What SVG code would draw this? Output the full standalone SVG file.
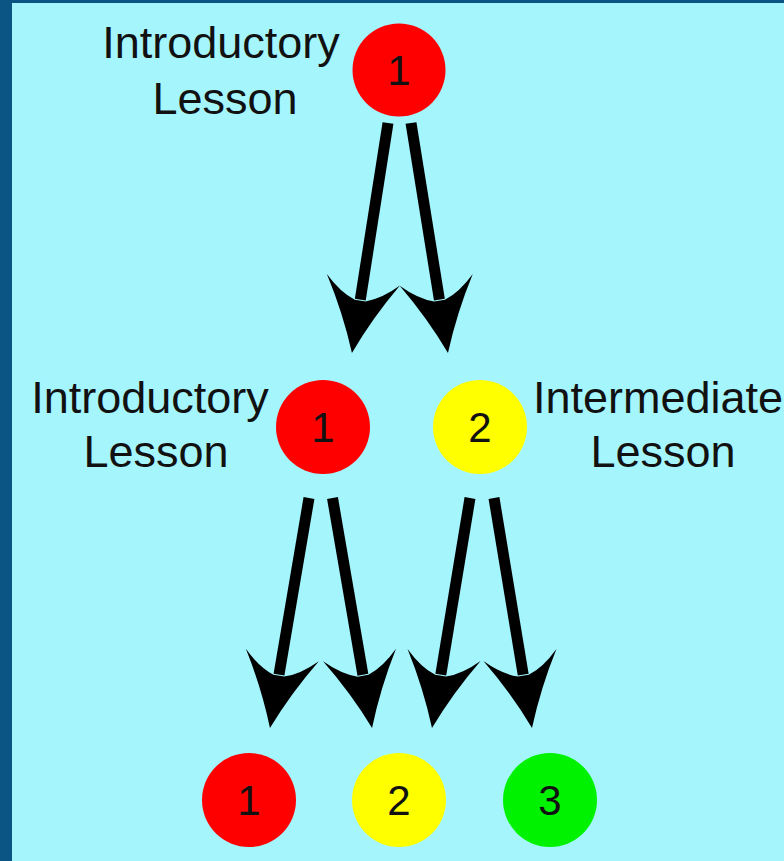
<svg xmlns="http://www.w3.org/2000/svg" width="784" height="861" viewBox="0 0 784 861">
  <style>
    .lbl { font-family: "Liberation Sans", Arial, sans-serif; font-size: 45px; fill: #111; text-anchor: middle; }
    .num { font-family: "Liberation Sans", Arial, sans-serif; font-size: 42px; fill: #111; text-anchor: middle; }
    .shaft { stroke: #000; stroke-width: 11; fill: none; marker-end: url(#head); }
    .red { fill: #ff0000; }
    .yellow { fill: #ffff00; }
    .green { fill: #00f200; }
  </style>
  <defs>
    <marker id="head" markerUnits="userSpaceOnUse" orient="auto" refX="0" refY="0" markerWidth="10" markerHeight="10" overflow="visible">
      <path d="M54,0 Q16,-15 -20,-37 Q-4,-21 1,-5.5 L1,5.5 Q-4,21 -20,37 Q16,15 54,0 Z" fill="#000"/>
    </marker>
  </defs>
  <rect x="0" y="0" width="784" height="861" fill="#0a5583"/>
  <rect x="12" y="3" width="772" height="858" fill="#a5f5fd"/>

  <g id="node-top">
    <circle class="red" cx="399" cy="70" r="46.5"/>
    <text class="num" x="399" y="85">1</text>
    <text class="lbl" x="221" y="58">Introductory</text>
    <text class="lbl" x="225" y="114">Lesson</text>
  </g>

  <g id="node-mid-1">
    <circle class="red" cx="323" cy="427" r="47"/>
    <text class="num" x="323" y="442">1</text>
    <text class="lbl" x="150" y="413">Introductory</text>
    <text class="lbl" x="156" y="467">Lesson</text>
  </g>

  <g id="node-mid-2">
    <circle class="yellow" cx="480" cy="427" r="47"/>
    <text class="num" x="480" y="442">2</text>
    <text class="lbl" x="658" y="413">Intermediate</text>
    <text class="lbl" x="663" y="467">Lesson</text>
  </g>

  <g id="node-bot-1">
    <circle class="red" cx="249" cy="800" r="47"/>
    <text class="num" x="249" y="815">1</text>
  </g>
  <g id="node-bot-2">
    <circle class="yellow" cx="399" cy="800" r="47"/>
    <text class="num" x="399" y="815">2</text>
  </g>
  <g id="node-bot-3">
    <circle class="green" cx="550" cy="800" r="47"/>
    <text class="num" x="550" y="815">3</text>
  </g>

  <g id="connectors">
    <line class="shaft" x1="388" y1="123" x2="360.3" y2="299.6"/>
    <line class="shaft" x1="411" y1="123" x2="439.4" y2="299.7"/>
    <line class="shaft" x1="309" y1="498" x2="279" y2="674.7"/>
    <line class="shaft" x1="332.5" y1="498" x2="362.9" y2="674.8"/>
    <line class="shaft" x1="470" y1="498" x2="440.8" y2="674.7"/>
    <line class="shaft" x1="494" y1="498" x2="523.2" y2="674.7"/>
  </g>
</svg>
